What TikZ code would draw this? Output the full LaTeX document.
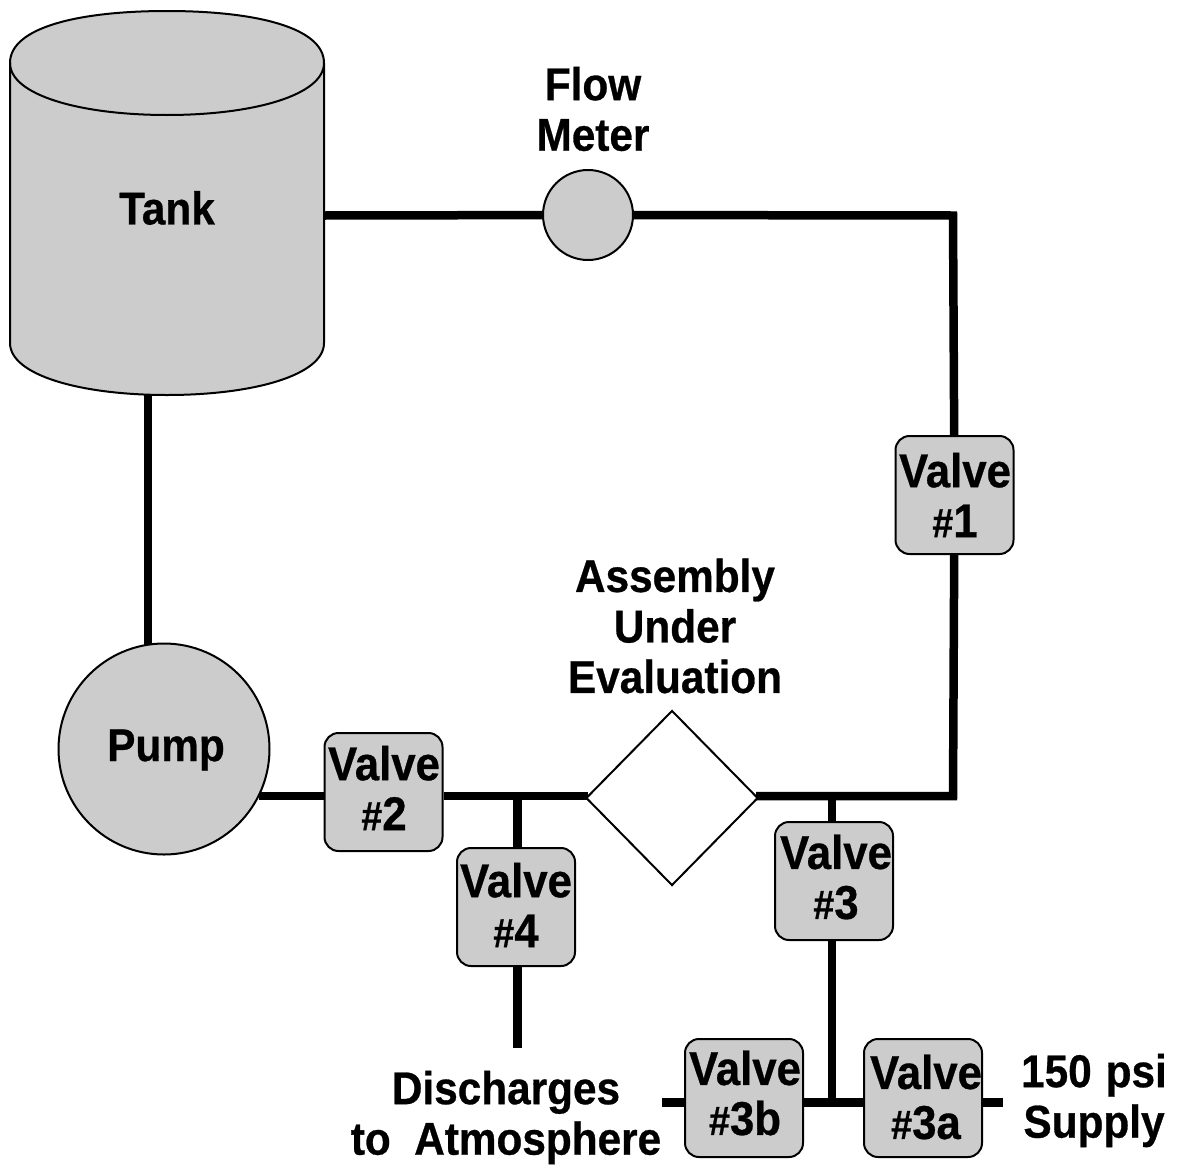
\documentclass[tikz,border=0pt]{standalone}
\usepackage{fontspec}
\setmainfont{Liberation Sans}[FakeStretch=0.92,BoldFeatures={FakeStretch=0.92,FakeBold=0.6}]
\usetikzlibrary{shapes.geometric}
\definecolor{fillgray}{gray}{0.8}
\newcommand{\hs}{{\fontsize{41}{50}\selectfont\#}}
\tikzset{x=1pt,y=-1pt,
 pipe/.style={line width=8.5pt},
 outlined/.style={draw=black,line width=2pt,fill=fillgray},
 valve/.style={outlined,rounded corners=14pt,minimum width=118pt,minimum height=118pt,inner sep=0pt},
 lab/.style={inner sep=0pt,align=center,font=\bfseries\fontsize{46}{50.5}\selectfont},
 vlab/.style={inner sep=0pt,align=center,font=\bfseries\fontsize{47.5}{50}\selectfont}}
\begin{document}
\begin{tikzpicture}
\useasboundingbox (0,0) rectangle (1177,1167);
\coordinate (tr) at (324,215.5);
\coordinate (corner1) at (953,215.5);
\coordinate (corner2) at (953,796);
\coordinate (tb) at (148,392);
\coordinate (pt) at (148,645);
\coordinate (pr) at (259,796);
\coordinate (j1) at (517.5,796);
\coordinate (j3) at (832,796);
\coordinate (j3b) at (832,1102.5);
\coordinate (end4) at (517.5,1048);
\coordinate (endl) at (662,1102.5);
\coordinate (endr) at (1003,1102.5);
\node[outlined,circle,minimum size=90pt,inner sep=0pt] (fm) at (588,215) {};
\node[outlined,circle,minimum size=211pt,inner sep=0pt] (pump) at (164,749) {};
\node[draw=black,line width=2pt,fill=white,diamond,aspect=1,minimum width=172pt,minimum height=175pt,inner sep=0pt] (aue) at (672,798) {};
\node[valve] (v1) at (954.5,495) {};
\node[valve] (v2) at (383.5,792) {};
\node[valve] (v3) at (834,881) {};
\node[valve] (v4) at (516,907) {};
\node[valve] (v3b) at (744,1098) {};
\node[valve] (v3a) at (923,1098) {};
\draw[pipe] (tr) -- (fm);
\draw[pipe] (fm) -- (corner1) -- (v1);
\draw[pipe,shorten >=-3pt] (v1) -- (corner2) -- (aue.east |- corner2);
\draw[pipe] (tb) -- (pt);
\draw[pipe] (pr) -- (v2.west |- pr);
\draw[pipe,shorten >=-3pt] (v2.east |- pr) -- (aue.west |- pr);
\draw[pipe] (j1) -- (v4.north -| j1);
\draw[pipe] (v4.south -| j1) -- (end4);
\draw[pipe] (j3) -- (v3.north -| j3);
\draw[pipe] (v3.south -| j3) -- (j3b);
\draw[pipe] (endl) -- (v3b.west |- endl);
\draw[pipe] (v3b.east |- endl) -- (v3a.west |- endl);
\draw[pipe] (v3a.east |- endl) -- (endr);
\path[outlined] (10,63) .. controls (10,27) and (80,11) .. (167,11) .. controls (254,11) and (324,27) .. (324,63)
 -- (324,343) .. controls (324,375) and (254,395) .. (167,395) .. controls (80,395) and (10,375) .. (10,343) -- cycle;
\draw[draw=black,line width=2pt] (10,63) .. controls (10,95) and (80,115) .. (167,115) .. controls (254,115) and (324,95) .. (324,63);
\node[lab] (tank) at (167,208) {Tank};
\node[lab] (pl) at (166,750) {Pump};
\node[lab] (fl) at (593,109) {Flow\\Meter};
\node[lab] (al) at (675,626) {Assembly\\Under\\Evaluation};
\node[lab] (dl) at (506,1117.5) {Discharges\\to\ \ Atmosphere};
\node[lab] (sl) at (1094,1100.5) {150\hspace{14pt}psi\\Supply};
\node[vlab] (t1) at (955,495) {Valve\\\hs1};
\node[vlab] (t2) at (384,788) {Valve\\\hs2};
\node[vlab] (t3) at (836,877) {Valve\\\hs3};
\node[vlab] (t4) at (516,905) {Valve\\\hs4};
\node[vlab] (t3b) at (745,1093) {Valve\\\hs3b};
\node[vlab] (t3a) at (926,1097) {Valve\\\hs3a};
\end{tikzpicture}
\end{document}
